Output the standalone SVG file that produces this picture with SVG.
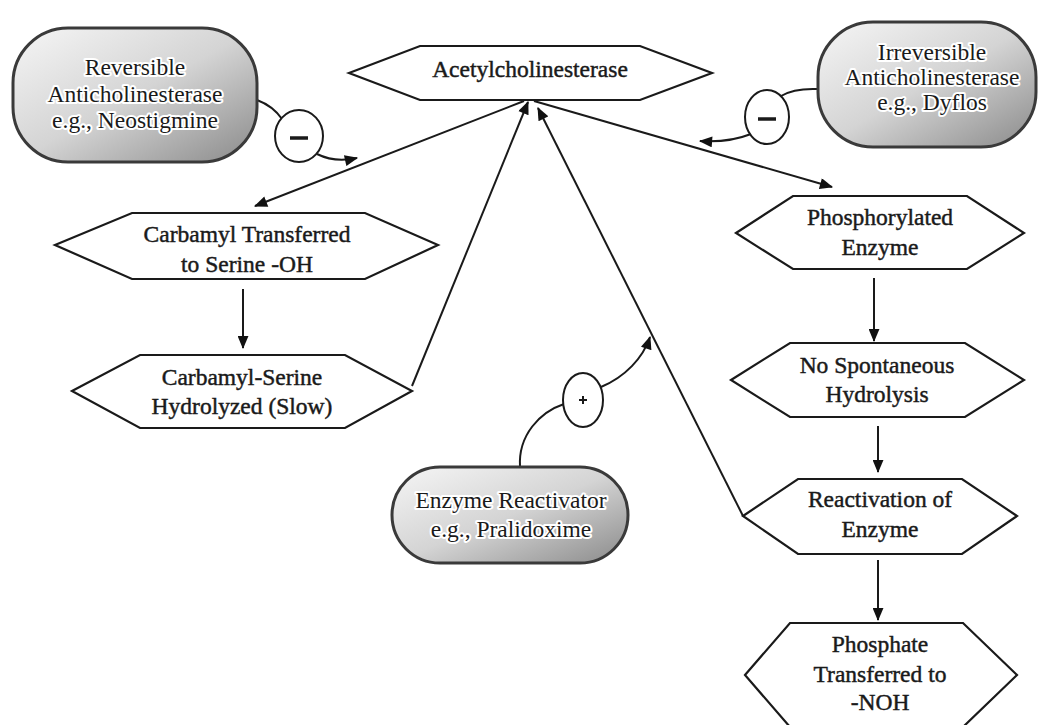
<svg xmlns="http://www.w3.org/2000/svg" width="1040" height="725" viewBox="0 0 1040 725">
<defs>
<marker id="arr" viewBox="0 0 12 10" refX="11" refY="5" markerWidth="14" markerHeight="11" markerUnits="userSpaceOnUse" orient="auto">
<path d="M0,0 L12,5 L0,10 Z" fill="#111"/>
</marker>
<linearGradient id="pillg" x1="0" y1="0" x2="1" y2="1">
<stop offset="0" stop-color="#f6f6f6"/>
<stop offset="0.5" stop-color="#d4d4d4"/>
<stop offset="1" stop-color="#8a8a8a"/>
</linearGradient>
<style>
.hex{fill:#fff;stroke:#1a1a1a;stroke-width:2.2;stroke-linejoin:miter}
.pill{fill:url(#pillg);stroke:#3a3a3a;stroke-width:3}
.t{font-family:"Liberation Serif","Times New Roman",serif;font-size:23.5px;fill:#1a1a1a;stroke:#1a1a1a;stroke-width:0.45;text-anchor:middle}
.halo{stroke:#fff;stroke-width:4;paint-order:stroke;stroke-linejoin:round}
.c{fill:none;stroke:#1a1a1a;stroke-width:2}
.ca{fill:none;stroke:#1a1a1a;stroke-width:2;marker-end:url(#arr)}
.sign{fill:#fff;stroke:#1a1a1a;stroke-width:2}
</style>
</defs>
<rect width="1040" height="725" fill="#fff"/>

<g id="connectors">
<line class="ca" x1="524" y1="101" x2="255" y2="206"/>
<line class="ca" x1="412" y1="386" x2="528" y2="102"/>
<line class="ca" x1="743" y1="516" x2="538" y2="108"/>
<line class="ca" x1="534" y1="101" x2="832" y2="187"/>
<line class="ca" x1="243" y1="289" x2="243" y2="348"/>
<line class="ca" x1="874" y1="278" x2="874" y2="341"/>
<line class="ca" x1="878" y1="426" x2="878" y2="472"/>
<line class="ca" x1="878" y1="560" x2="878" y2="620"/>
<path class="c" d="M257,100 Q273,106 282,119"/>
<path class="ca" d="M317,154 Q335,163 357,158"/>
<path class="c" d="M818,89 Q794,88 781,96"/>
<path class="ca" d="M751,134 Q728,143 700,141"/>
<path class="c" d="M520,467 C518,435 540,412 564,404"/>
<path class="ca" d="M601,387 C625,377 643,358 650,337"/>
</g>

<g id="sign-minus-left">
<ellipse class="sign" cx="299" cy="136" rx="24" ry="26"/>
<line x1="290" y1="138" x2="308" y2="138" stroke="#1a1a1a" stroke-width="3.5"/>
</g>
<g id="sign-minus-right">
<ellipse class="sign" cx="767" cy="117" rx="22" ry="27"/>
<line x1="758" y1="119" x2="776" y2="119" stroke="#1a1a1a" stroke-width="3.5"/>
</g>
<g id="sign-plus">
<ellipse class="sign" cx="583" cy="400" rx="20" ry="27"/>
<line x1="579" y1="400" x2="587" y2="400" stroke="#1a1a1a" stroke-width="2"/>
<line x1="583" y1="396" x2="583" y2="404" stroke="#1a1a1a" stroke-width="2"/>
</g>

<g id="reversible">
<rect class="pill" x="13" y="28" width="244" height="134" rx="55" ry="55"/>
<text class="t halo" x="135" y="75">Reversible</text>
<text class="t halo" x="135" y="102">Anticholinesterase</text>
<text class="t halo" x="135" y="128">e.g., Neostigmine</text>
</g>

<g id="irreversible">
<rect class="pill" x="818" y="22" width="218" height="125" rx="55" ry="55"/>
<text class="t halo" x="932" y="60">Irreversible</text>
<text class="t halo" x="932" y="85">Anticholinesterase</text>
<text class="t halo" x="932" y="110">e.g., Dyflos</text>
</g>

<g id="reactivator">
<rect class="pill" x="392" y="467" width="236" height="96" rx="48" ry="48"/>
<text class="t halo" x="511" y="508">Enzyme Reactivator</text>
<text class="t halo" x="511" y="537">e.g., Pralidoxime</text>
</g>

<g id="acetylcholinesterase">
<polygon class="hex" points="349,73 420,46 640,46 712,73 640,100 420,100"/>
<text class="t" x="530" y="77">Acetylcholinesterase</text>
</g>

<g id="carbamyl-transferred">
<polygon class="hex" points="55,245 132,213 365,213 438,245 365,279 132,279"/>
<text class="t" x="247" y="242">Carbamyl Transferred</text>
<text class="t" x="247" y="272">to Serine -OH</text>
</g>

<g id="carbamyl-serine">
<polygon class="hex" points="72,391 140,355 345,355 412,391 345,428 140,428"/>
<text class="t" x="242" y="385">Carbamyl-Serine</text>
<text class="t" x="242" y="414">Hydrolyzed (Slow)</text>
</g>

<g id="phosphorylated">
<polygon class="hex" points="736,233 793,196 967,196 1024,233 967,269 793,269"/>
<text class="t" x="880" y="225">Phosphorylated</text>
<text class="t" x="880" y="255">Enzyme</text>
</g>

<g id="no-spontaneous">
<polygon class="hex" points="731,380 790,343 965,343 1024,380 965,417 790,417"/>
<text class="t" x="877" y="373">No Spontaneous</text>
<text class="t" x="877" y="402">Hydrolysis</text>
</g>

<g id="reactivation">
<polygon class="hex" points="743,516 798,479 962,479 1017,516 962,554 798,554"/>
<text class="t" x="880" y="507">Reactivation of</text>
<text class="t" x="880" y="537">Enzyme</text>
</g>

<g id="phosphate">
<polygon class="hex" points="745,675 790,623 963,623 1017,675 963,727 790,727"/>
<text class="t" x="880" y="652">Phosphate</text>
<text class="t" x="880" y="682">Transferred to</text>
<text class="t" x="880" y="710">-NOH</text>
</g>
</svg>
